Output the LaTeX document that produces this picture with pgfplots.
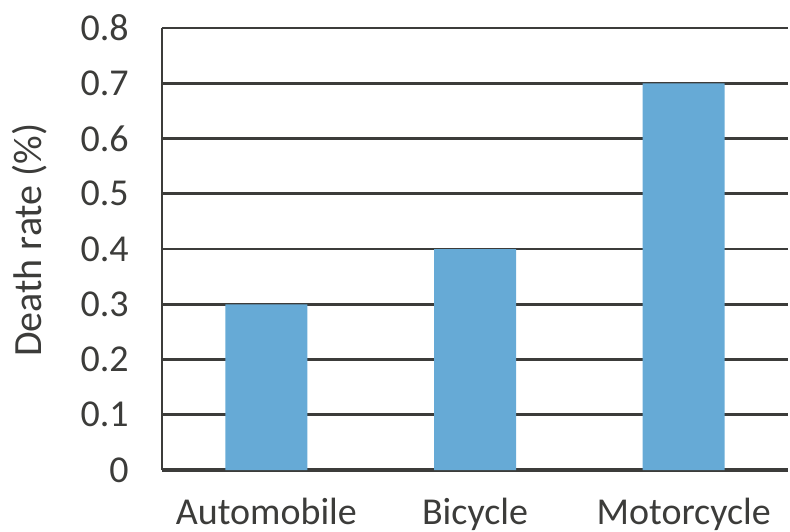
\documentclass[border=0pt]{standalone}
\usepackage{pgfplots}
\pgfplotsset{compat=1.18}
\usepackage{fontspec}
\setmainfont{Carlito}
\definecolor{barblue}{HTML}{66AAD6}
\definecolor{gridc}{HTML}{3C3C3A}
\begin{document}
\begin{tikzpicture}
\begin{axis}[
  width=313pt, height=221pt, scale only axis,
  xmin=-0.5, xmax=2.5, ymin=0, ymax=0.8,
  ybar, bar width=41pt,
  axis x line=bottom, axis y line=left,
  axis line style={-, gridc},
  x axis line style={line width=2pt},
  y axis line style={line width=1.3pt},
  ymajorgrids, grid style={gridc, line width=1.3pt},
  ytick={0,0.1,0.2,0.3,0.4,0.5,0.6,0.7,0.8},
  yticklabels={0,0.1,0.2,0.3,0.4,0.5,0.6,0.7,0.8},
  ytick style={draw=none},
  xtick={0,1,2},
  xticklabels={Automobile,Bicycle,Motorcycle},
  xtick style={draw=none},
  extra x ticks={-0.5,0.5,1.5},
  extra x tick labels={},
  extra x tick style={grid=none, tick align=outside, major tick length=4pt,
     tick style={draw=gray!40, line width=0.6pt}},
  /pgf/number format/assume math mode=true,
  ticklabel style={font=\fontsize{19}{22}\selectfont, text=gridc},
  yticklabel style={xshift=-11pt},
  xticklabel style={inner sep=0pt, yshift=-11.5pt},
  ylabel={Death rate (\%)},
  every axis y label/.style={at={(axis description cs:0,0.52)}, xshift=-66pt, rotate=90, anchor=center,
     font=\fontsize{20}{23}\selectfont, text=gridc},
]
\addplot[fill=barblue, draw=none] coordinates {(0,0.3) (1,0.4) (2,0.7)};
\end{axis}
\pgfresetboundingbox
\path (current axis.south west) ++(-81pt,-30.5pt) rectangle ++(395pt,265.5pt);
\end{tikzpicture}
\end{document}
